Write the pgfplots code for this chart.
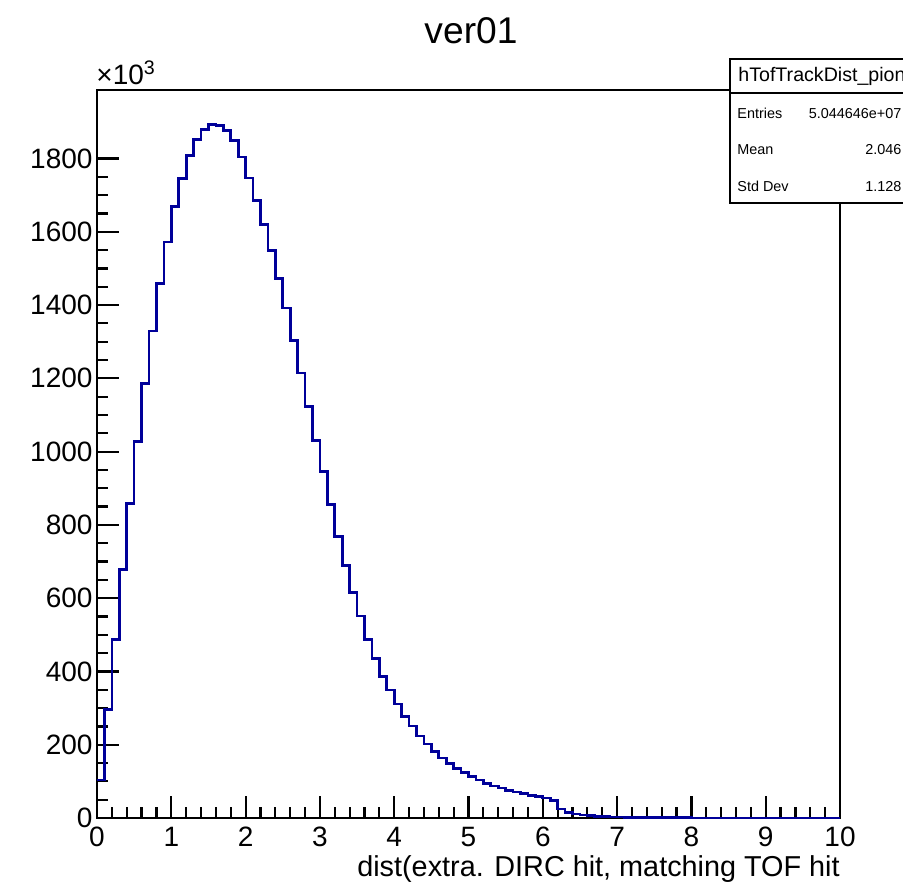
\documentclass[border=0pt]{standalone}
\usepackage{fontspec}
\setmainfont{Liberation Sans}
\usepackage{pgfplots}
\pgfplotsset{compat=1.18}
\definecolor{histblue}{RGB}{0,0,153}
\begin{document}
\begin{tikzpicture}
\path[use as bounding box] (-48.5pt,-33.5pt) rectangle (403pt,409pt);
\clip (-48.5pt,-33.5pt) rectangle (403pt,409pt);
\begin{axis}[
  at={(0pt,0pt)}, anchor=south west,
  scale only axis, width=371.5pt, height=364pt,
  xmin=0, xmax=10, ymin=0, ymax=1987,
  xtick={0,...,10}, minor x tick num=4,
  ytick={0,200,...,1800}, minor y tick num=3,
  tick align=inside, xtick pos=bottom, ytick pos=left,
  major tick length=10.8pt, minor tick length=5.3pt,
  axis line style={line width=1.2pt},
  tick style={black, line width=1.1pt},
  tick label style={font=\fontsize{14pt}{16pt}\selectfont},
  /pgf/number format/assume math mode=true,
  /pgf/number format/1000 sep={},
  scaled y ticks=false,
  xticklabel style={yshift=-1pt},
  yticklabel style={xshift=1.3pt},
]
\addplot[const plot, histblue, line width=1.35pt] table {
x y
0.0 104
0.1 296
0.2 487
0.3 679
0.4 858
0.5 1028
0.6 1185
0.7 1329
0.8 1458
0.9 1572
1.0 1669
1.1 1745
1.2 1809
1.3 1851
1.4 1880
1.5 1892
1.6 1890
1.7 1876
1.8 1849
1.9 1804
2.0 1747
2.1 1685
2.2 1619
2.3 1549
2.4 1472
2.5 1392
2.6 1304
2.7 1215
2.8 1124
2.9 1031
3.0 946
3.1 855
3.2 769
3.3 690
3.4 615
3.5 551
3.6 487
3.7 435
3.8 387
3.9 349
4.0 311
4.1 278
4.2 251
4.3 224
4.4 202
4.5 181
4.6 164
4.7 149
4.8 136
4.9 124
5.0 114
5.1 104
5.2 95
5.3 87
5.4 82
5.5 76
5.6 71
5.7 66
5.8 62
5.9 58
6.0 55
6.1 47
6.2 25
6.3 15
6.4 11
6.5 8
6.6 6
6.7 5
6.8 4
6.9 3
7.0 2.5
7.1 2
7.2 1.7
7.3 1.4
7.4 1.2
7.5 1.0
7.6 0.8
7.7 0.7
7.8 0.6
7.9 0.5
8.0 0.4
8.1 0.3
8.2 0.25
8.3 0.2
8.4 0.15
8.5 0.1
8.6 0
8.7 0
8.8 0
8.9 0
9.0 0
9.1 0
9.2 0
9.3 0
9.4 0
9.5 0
9.6 0
9.7 0
9.8 0
9.9 0
10.0 0
};
\end{axis}
% title
\node[anchor=base, inner sep=0pt, font=\fontsize{18.6pt}{20pt}\selectfont] at (187pt,387pt) {ver01};
% x10^3
\node[anchor=base west, inner sep=0pt, font=\fontsize{14pt}{16pt}\selectfont] at (-0.5pt,366.5pt) {×10\textsuperscript{3}};
% x label
\node[anchor=base east, inner sep=0pt, font=\fontsize{14.4pt}{16pt}\selectfont] at (371.5pt,-29.4pt) {dist(extra. DIRC hit, matching TOF hit};
% stats box
\draw[line width=1pt, fill=white] (316.5pt,307.5pt) rectangle (440pt,379.5pt);
\draw[line width=1pt] (316.5pt,362.5pt) -- (440pt,362.5pt);
\node[anchor=west, inner sep=0pt, font=\fontsize{9.8pt}{11pt}\selectfont] at (320.5pt,371pt) {hTofTrackDist\_pion};
\begin{scope}[font=\fontsize{7.2pt}{9pt}\selectfont]
\node[anchor=west, inner sep=0pt] at (320pt,352.3pt) {Entries};
\node[anchor=west, inner sep=0pt] at (320pt,334pt) {Mean};
\node[anchor=west, inner sep=0pt] at (320pt,315.6pt) {Std Dev};
\node[anchor=east, inner sep=0pt] at (402.4pt,352.3pt) {5.044646e+07};
\node[anchor=east, inner sep=0pt] at (402.4pt,334pt) {2.046};
\node[anchor=east, inner sep=0pt] at (402.4pt,315.6pt) {1.128};
\end{scope}
\end{tikzpicture}
\end{document}
